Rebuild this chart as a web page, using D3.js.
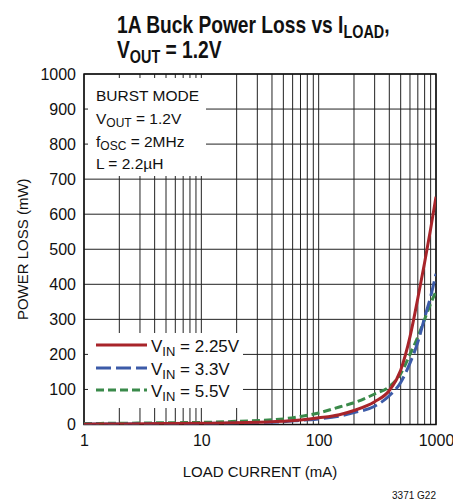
<!DOCTYPE html>
<html>
<head>
<meta charset="utf-8">
<script src="https://cdn.jsdelivr.net/npm/d3@7"></script>
<style>
  html, body { margin: 0; padding: 0; background: #fff; }
  svg { display: block; }
  text { font-family: "Liberation Sans", Arial, sans-serif; fill: #111; }
</style>
</head>
<body>
<svg id="chart" width="453" height="504"></svg>
<script>
// ---- data (load current mA, power loss mW) ----
const loadCurrent = [1, 2, 5, 10, 20, 50, 70, 100, 150, 200, 300, 400, 500, 600, 700, 800, 900, 1000];
const lossVin225 = [1, 1.5, 2.5, 3.5, 5, 9, 13, 19, 28, 40, 65, 97, 155, 250, 360, 462, 558, 650];
const lossVin33  = [1, 1.5, 2.5, 3, 4.5, 8, 12, 16, 24, 34, 52, 82, 120, 175, 235, 305, 365, 430];
const lossVin55  = [3, 3.5, 5, 6, 9, 16, 23, 33, 50, 62, 87, 108, 145, 200, 250, 300, 345, 380];
const seriesNames = ["2.25V", "3.3V", "5.5V"];
const yTicks = [0, 100, 200, 300, 400, 500, 600, 700, 800, 900, 1000];
const xTicks = [1, 10, 100, 1000];
const annotation = ["BURST MODE", ["V", "OUT", " = 1.2V"], ["f", "OSC", " = 2MHz"], "L = 2.2µH"];

const svg = d3.select("#chart");
const m = { left: 84, right: 436, top: 74, bottom: 424.5 };

const x = d3.scaleLog().domain([1, 1000]).range([m.left, m.right]);
const y = d3.scaleLinear().domain([0, 1000]).range([m.bottom, m.top]);

// ---- title (bold condensed look via horizontal scale) ----
const tg = svg.append("g").attr("transform", "translate(117,0) scale(0.8,1)");
const t1 = tg.append("text").attr("x", 0).attr("y", 33)
  .style("font-weight", "bold").style("font-size", "24px");
t1.append("tspan").text("1A Buck Power Loss vs I");
t1.append("tspan").attr("dy", 5).style("font-size", "18px").text("LOAD");
t1.append("tspan").attr("dy", -5).text(",");
const t2 = tg.append("text").attr("x", 0).attr("y", 58)
  .style("font-weight", "bold").style("font-size", "24px");
t2.append("tspan").text("V");
t2.append("tspan").attr("dy", 5).style("font-size", "18px").text("OUT");
t2.append("tspan").attr("dy", -5).text(" = 1.2V");

// ---- grid ----
const minor = [];
for (let d = 1; d < 1000; d *= 10) for (let k = 1; k <= 10; k++) minor.push(d * k);
const g = svg.append("g");
g.selectAll("line.v").data(Array.from(new Set(minor))).enter().append("line")
  .attr("x1", d => x(d)).attr("x2", d => x(d))
  .attr("y1", m.top).attr("y2", m.bottom)
  .attr("stroke", "#222").attr("stroke-width", 1);
g.selectAll("line.h").data(yTicks).enter().append("line")
  .attr("x1", m.left).attr("x2", m.right)
  .attr("y1", d => y(d)).attr("y2", d => y(d))
  .attr("stroke", "#222").attr("stroke-width", 1);

// ---- white boxes over grid ----
svg.append("rect").attr("x", 88).attr("y", 78).attr("width", 118).attr("height", 98).attr("fill", "#fff");
svg.append("rect").attr("x", 88).attr("y", 333).attr("width", 155).attr("height", 75).attr("fill", "#fff");

// ---- frame ----
svg.append("rect").attr("x", m.left).attr("y", m.top)
  .attr("width", m.right - m.left).attr("height", m.bottom - m.top)
  .attr("fill", "none").attr("stroke", "#111").attr("stroke-width", 1.5);

// ---- axes labels ----
const yAxis = d3.axisLeft(y).tickValues(yTicks).tickFormat(d3.format("d")).tickSize(0).tickPadding(8);
const ya = svg.append("g").attr("transform", `translate(${m.left},0)`).call(yAxis);
ya.select(".domain").remove();
ya.selectAll("text").style("font-size", "16px").style("font-family", '"Liberation Sans", Arial, sans-serif').attr("fill", "#111");

const xAxis = d3.axisBottom(x).tickValues(xTicks).tickFormat(d3.format("d")).tickSize(0).tickPadding(10);
const xa = svg.append("g").attr("transform", `translate(0,${m.bottom})`).call(xAxis);
xa.select(".domain").remove();
xa.selectAll("text").style("font-size", "16px").style("font-family", '"Liberation Sans", Arial, sans-serif').attr("fill", "#111");

svg.append("text").attr("x", (m.left + m.right) / 2).attr("y", 477)
  .attr("text-anchor", "middle").style("font-size", "15px").text("LOAD CURRENT (mA)");
svg.append("text").attr("transform", `translate(28,${(m.top + m.bottom) / 2}) rotate(-90)`)
  .attr("text-anchor", "middle").style("font-size", "15px").text("POWER LOSS (mW)");

svg.append("text").attr("x", 436).attr("y", 499).attr("text-anchor", "end")
  .style("font-size", "10px").text("3371 G22");

// ---- annotation ----
const ay = [101, 124, 147, 169];
annotation.forEach((a, i) => {
  const t = svg.append("text").attr("x", 96).attr("y", ay[i]).style("font-size", "15.5px");
  if (typeof a === "string") t.text(a);
  else {
    t.append("tspan").text(a[0]);
    t.append("tspan").attr("dy", 3).style("font-size", "12px").text(a[1]);
    t.append("tspan").attr("dy", -3).text(a[2]);
  }
});

// ---- curves ----
const series = [
  { name: seriesNames[0], vals: lossVin225, color: "#a8242a", dash: null },
  { name: seriesNames[1], vals: lossVin33, color: "#3c5ba8", dash: "15,5" },
  { name: seriesNames[2], vals: lossVin55, color: "#3a8a4a", dash: "8,4" }
];
svg.append("clipPath").attr("id", "clip").append("rect")
  .attr("x", m.left).attr("y", m.top).attr("width", m.right - m.left).attr("height", m.bottom - m.top);
const line = d3.line().x(d => x(d[0])).y(d => y(d[1])).curve(d3.curveMonotoneX);
const cg = svg.append("g").attr("clip-path", "url(#clip)");
[...series].reverse().forEach(s => {
  cg.append("path").datum(loadCurrent.map((c, i) => [c, s.vals[i]]))
    .attr("d", line).attr("fill", "none").attr("stroke", s.color)
    .attr("stroke-width", 3).attr("stroke-dasharray", s.dash);
});

// ---- legend ----
const ly = [345, 368, 390];
series.forEach((s, i) => {
  svg.append("line").attr("x1", 96).attr("x2", 147).attr("y1", ly[i]).attr("y2", ly[i])
    .attr("stroke", s.color).attr("stroke-width", 3).attr("stroke-dasharray", s.dash);
  const t = svg.append("text").attr("x", 151).attr("y", ly[i] + 7).style("font-size", "17px");
  t.append("tspan").text("V");
  t.append("tspan").attr("dy", 4).style("font-size", "13px").text("IN");
  t.append("tspan").attr("dy", -4).text(" = " + s.name);
});
</script>
</body>
</html>
